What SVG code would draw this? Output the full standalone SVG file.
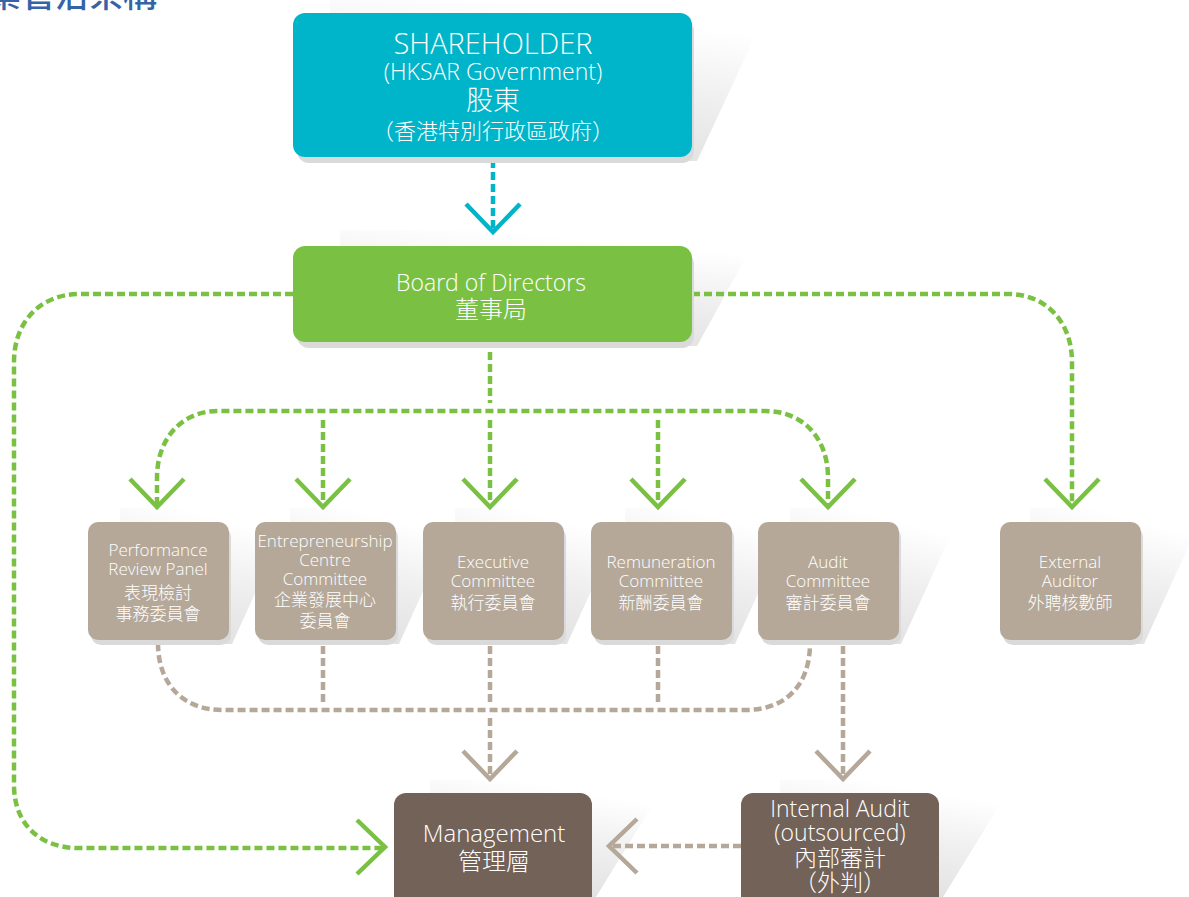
<svg xmlns="http://www.w3.org/2000/svg" xmlns:xlink="http://www.w3.org/1999/xlink" width="1189" height="897" viewBox="0 0 1189 897">
<style>
  .t { font-family: "Open Sans", "Noto Sans", "Noto Sans CJK TC", sans-serif; font-weight: 300; fill: #ffffff; text-anchor: middle; }
  .cj { font-family: "Noto Sans CJK TC", "Noto Sans", sans-serif; font-weight: 300; fill: #ffffff; text-anchor: middle; }
  .s17 { font-size: 17px; }
  .s23 { font-size: 23px; }
  .dash { fill: none; stroke-width: 4.5; stroke-dasharray: 8 4; }
  .chev { fill: none; stroke-width: 4.5; stroke-linecap: butt; stroke-linejoin: miter; }
  .g { stroke: #7ac143; }
  .c { stroke: #00b5c9; }
  .b { stroke: #b5a899; }
  .shadow { fill: #dadada; }
  .shade { fill: url(#shadeGrad); }
</style>
<defs>
  <linearGradient id="shadeGrad" x1="0" y1="1" x2="0.35" y2="0">
    <stop offset="0" stop-color="#dcdcdc"/>
    <stop offset="0.6" stop-color="#efefef"/>
    <stop offset="1" stop-color="#ffffff"/>
  </linearGradient>
  <path id="chevDown" d="M-27,-28 L0,0 L27,-28"/>
  <path id="chevRight" d="M-28,-27 L0,0 L-28,27"/>
  <path id="chevLeft" d="M28,-27 L0,0 L28,27"/>
</defs>

<rect x="0" y="0" width="1189" height="897" fill="#ffffff"/>

<text id="title" x="-47" y="7" font-family="'Noto Sans CJK TC', sans-serif" font-size="34" font-weight="500" fill="#3463a8">企業管治架構</text>

<g id="shades">
  <polygon class="shade" points="330,0 772,0 697,161 330,161"/>
  <polygon class="shade" points="340,230 761,230 697,346 340,346"/>
  <polygon class="shade" points="120,508 294,508 232,644 120,644"/>
  <polygon class="shade" points="290,508 461,508 399,644 290,644"/>
  <polygon class="shade" points="455,508 629,508 567,644 455,644"/>
  <polygon class="shade" points="625,508 797,508 735,644 625,644"/>
  <polygon class="shade" points="790,508 963,508 901,644 790,644"/>
  <polygon class="shade" points="1030,508 1206,508 1144,644 1030,644"/>
  <polygon class="shade" points="430,780 668,780 596,897 430,897"/>
  <polygon class="shade" points="780,780 1015,780 943,897 780,897"/>
</g>

<g id="connectors">
  <path class="dash c" d="M493,160 V229"/>
  <use xlink:href="#chevDown" class="chev c" transform="translate(493,232)"/>

  <path class="dash g" d="M293,294 H80 C40,294 14,322 14,362 V785 C14,824 40,848 78,848 H382"/>
  <use xlink:href="#chevRight" class="chev g" transform="translate(385,847)"/>
  <path class="dash g" d="M692,294 H1008 C1046,294 1072,322 1072,362 V505"/>
  <use xlink:href="#chevDown" class="chev g" transform="translate(1072,507)"/>
  <path class="dash g" d="M490,352 V403"/>
  <path class="dash g" d="M157,505 V478 C157,438 182,411 218,411 H765 C803,411 828,438 828,478 V505"/>
  <path class="dash g" d="M323,420 V505 M490,420 V505 M658,420 V505"/>
  <use xlink:href="#chevDown" class="chev g" transform="translate(157,507)"/>
  <use xlink:href="#chevDown" class="chev g" transform="translate(323,507)"/>
  <use xlink:href="#chevDown" class="chev g" transform="translate(490,507)"/>
  <use xlink:href="#chevDown" class="chev g" transform="translate(658,507)"/>
  <use xlink:href="#chevDown" class="chev g" transform="translate(828,507)"/>

  <path class="dash b" d="M158,643 C158,686 185,710 222,710 H745 C785,710 810,686 810,643"/>
  <path class="dash b" d="M323,646 V702 M490,646 V702 M658,646 V702"/>
  <path class="dash b" d="M490,718 V776"/>
  <path class="dash b" d="M843,646 V776"/>
  <use xlink:href="#chevDown" class="chev b" transform="translate(490,779)"/>
  <use xlink:href="#chevDown" class="chev b" transform="translate(843,779)"/>
  <path class="dash b" d="M741,846 H612"/>
  <use xlink:href="#chevLeft" class="chev b" transform="translate(609,846)"/>
</g>

<g id="shareholder">
  <rect class="shadow" x="297" y="19" width="397" height="144" rx="12"/>
  <rect x="293" y="13" width="399" height="144" rx="12" fill="#00b5c9"/>
  <text class="t" x="493" y="54" font-size="29">SHAREHOLDER</text>
  <text class="t" x="493" y="80" font-size="23">(HKSAR Government)</text>
  <text class="cj" x="493" y="110" font-size="27">股東</text>
  <text class="cj" x="493" y="139" font-size="22">（香港特別行政區政府）</text>
</g>

<g id="board">
  <rect class="shadow" x="297" y="252" width="397" height="96" rx="12"/>
  <rect x="293" y="246" width="399" height="96" rx="12" fill="#7ac143"/>
  <text class="t s23" x="491" y="291">Board of Directors</text>
  <text class="cj" x="491" y="318" font-size="24">董事局</text>
</g>

<g id="prp">
  <rect class="shadow" x="91" y="527" width="140" height="118" rx="10"/>
  <rect x="88" y="522" width="141" height="118" rx="10" fill="#b5a899"/>
  <text class="t s17" x="158" y="556">Performance</text>
  <text class="t s17" x="158" y="575">Review Panel</text>
  <text class="cj s17" x="158" y="599">表現檢討</text>
  <text class="cj s17" x="158" y="620">事務委員會</text>
</g>

<g id="ecc">
  <rect class="shadow" x="258" y="527" width="140" height="118" rx="10"/>
  <rect x="255" y="522" width="141" height="118" rx="10" fill="#b5a899"/>
  <text class="t s17" x="325" y="547">Entrepreneurship</text>
  <text class="t s17" x="325" y="566">Centre</text>
  <text class="t s17" x="325" y="585">Committee</text>
  <text class="cj s17" x="325" y="606">企業發展中心</text>
  <text class="cj s17" x="325" y="627">委員會</text>
</g>

<g id="exec">
  <rect class="shadow" x="426" y="527" width="140" height="118" rx="10"/>
  <rect x="423" y="522" width="141" height="118" rx="10" fill="#b5a899"/>
  <text class="t s17" x="493" y="568">Executive</text>
  <text class="t s17" x="493" y="587">Committee</text>
  <text class="cj s17" x="493" y="609">執行委員會</text>
</g>

<g id="remuneration">
  <rect class="shadow" x="594" y="527" width="140" height="118" rx="10"/>
  <rect x="591" y="522" width="141" height="118" rx="10" fill="#b5a899"/>
  <text class="t s17" x="661" y="568">Remuneration</text>
  <text class="t s17" x="661" y="587">Committee</text>
  <text class="cj s17" x="661" y="609">新酬委員會</text>
</g>

<g id="audit">
  <rect class="shadow" x="761" y="527" width="140" height="118" rx="10"/>
  <rect x="758" y="522" width="141" height="118" rx="10" fill="#b5a899"/>
  <text class="t s17" x="828" y="568">Audit</text>
  <text class="t s17" x="828" y="587">Committee</text>
  <text class="cj s17" x="828" y="609">審計委員會</text>
</g>

<g id="external">
  <rect class="shadow" x="1003" y="527" width="140" height="118" rx="10"/>
  <rect x="1000" y="522" width="141" height="118" rx="10" fill="#b5a899"/>
  <text class="t s17" x="1070" y="568">External</text>
  <text class="t s17" x="1070" y="587">Auditor</text>
  <text class="cj s17" x="1070" y="609">外聘核數師</text>
</g>

<g id="management">
  <rect x="394" y="793" width="198" height="120" rx="12" fill="#736258"/>
  <text class="t" x="494" y="842" font-size="24">Management</text>
  <text class="cj" x="494" y="870" font-size="24">管理層</text>
</g>

<g id="internal">
  <rect x="741" y="793" width="198" height="120" rx="12" fill="#736258"/>
  <text class="t" x="840" y="817" font-size="23">Internal Audit</text>
  <text class="t" x="840" y="841" font-size="23">(outsourced)</text>
  <text class="cj" x="840" y="866" font-size="23">內部審計</text>
  <text class="cj" x="840" y="891" font-size="23">（外判）</text>
</g>
</svg>
